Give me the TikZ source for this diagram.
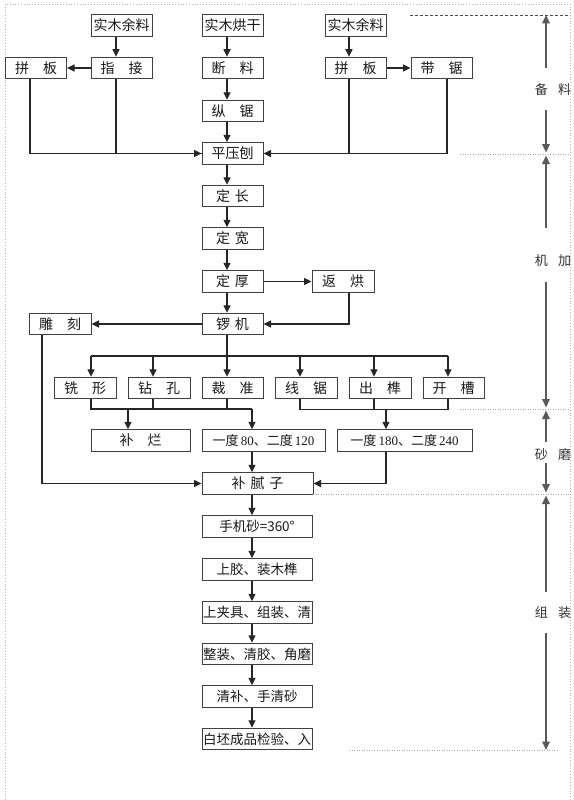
\documentclass[tikz,border=0pt]{standalone}
\usepackage{fontspec}
\setmainfont{Noto Sans CJK SC}
\newfontfamily\lat{Liberation Serif}
\usetikzlibrary{arrows.meta}
\newcommand\wsp{\hspace{1em}}
\newcommand\nsp{\hspace{0.35em}}
\begin{document}
\begin{tikzpicture}[x=1pt,y=-1pt,
  box/.style={draw=black!75, line width=1pt, minimum height=21.5pt, inner sep=0pt,
    font=\fontsize{14pt}{15pt}\selectfont, text=black!90},
  long/.style={font=\fontsize{13.5pt}{14pt}\selectfont},
  con/.style={draw=black!85, line width=1.1pt},
  arr/.style={con, -{Triangle[length=7.5pt,width=7pt]}},
  col/.style={draw=black!65, line width=2pt},
  colarr/.style={col, -{Triangle[length=8.5pt,width=7.5pt]}},
  sep/.style={draw=black!35, line width=0.5pt, dotted},
  topdash/.style={draw=black!70, line width=0.8pt, dash pattern=on 3pt off 2pt},
  border/.style={draw=black!30, line width=0.8pt, dotted},
  lab/.style={font=\fontsize{13pt}{14pt}\selectfont, text=black!80}
]
\useasboundingbox (0,0) rectangle (573,800);
\fill[white] (0,0) rectangle (573,800);

% page border
\draw[border] (5,800) -- (5,4) -- (570,4) -- (570,800);

% top rows
\node[box, minimum width=61pt] (s1) at (121.5,25.5) {实木余料};
\node[box, minimum width=61pt] (s2) at (232.5,25.5) {实木烘干};
\node[box, minimum width=61pt] (s3) at (355.5,25.5) {实木余料};
\node[box, minimum width=61pt] (pb1) at (36,68) {拼\wsp 板};
\node[box, minimum width=61pt] (zj) at (121.5,68) {指\wsp 接};
\node[box, minimum width=61pt] (dl) at (232.5,68) {断\wsp 料};
\node[box, minimum width=61pt] (pb2) at (355.5,68) {拼\wsp 板};
\node[box, minimum width=61pt] (dj) at (441.5,68) {带\wsp 锯};
\node[box, minimum width=61pt] (zjv) at (232.5,111) {纵\wsp 锯};
\node[box, minimum width=61pt] (ppb) at (232.5,153.5) {平压刨};
\node[box, minimum width=61pt] (dc) at (232.5,196) {定\nsp 长};
\node[box, minimum width=61pt] (dk) at (232.5,238.5) {定\nsp 宽};
\node[box, minimum width=61pt] (dh) at (232.5,281.5) {定\nsp 厚};
\node[box, minimum width=62pt] (hh) at (343,281.5) {返\wsp 烘};
\node[box, minimum width=61pt] (lj) at (232.5,324) {锣\nsp 机};
\node[box, minimum width=62pt] (dk2) at (60,324) {雕\wsp 刻};

% machining row
\node[box, minimum width=62pt] (xx) at (85,388) {铣\wsp 形};
\node[box, minimum width=62pt] (zk) at (159,388) {钻\wsp 孔};
\node[box, minimum width=61pt] (cz) at (232.5,388) {裁\wsp 准};
\node[box, minimum width=62pt] (xj) at (306,388) {线\wsp 锯};
\node[box, minimum width=62pt] (cs) at (380,388) {出\wsp 榫};
\node[box, minimum width=61pt] (kc) at (453.5,388) {开\wsp 槽};

% sanding row
\node[box, minimum width=99pt] (bl) at (140.5,440.5) {补\wsp 烂};
\node[box, minimum width=123pt, font=\fontsize{13pt}{14pt}\selectfont] (yd1) at (263.5,440.5) {一度\,{\lat 80}、二度\,{\lat 120}};
\node[box, minimum width=135pt, font=\fontsize{13pt}{14pt}\selectfont] (yd2) at (404.5,440.5) {一度\,{\lat 180}、二度\,{\lat 240}};
\node[box, minimum width=111pt] (bnz) at (257.5,483.5) {补\nsp 腻\nsp 子};

% assembly chain
\node[box, long, minimum width=110pt] (c1) at (257,526.5) {手机砂=360°};
\node[box, long, minimum width=110pt] (c2) at (257,569.5) {上胶、装木榫};
\node[box, long, minimum width=110pt] (c3) at (257,612.5) {上夹具、组装、清};
\node[box, long, minimum width=110pt] (c4) at (257,654) {整装、清胶、角磨};
\node[box, long, minimum width=110pt] (c5) at (257,696.5) {清补、手清砂};
\node[box, long, minimum width=110pt] (c6) at (257,739) {白坯成品检验、入};

% --- connectors: preparation ---
\draw[arr] ([xshift=-5.5pt]s1.south) -- ([xshift=-5.5pt]zj.north);
\draw[arr] (zj.west) -- (pb1.east);
\draw[arr] ([xshift=-6.5pt]s3.south) -- ([xshift=-6.5pt]pb2.north);
\draw[arr] (pb2.east) -- (dj.west);
\draw[arr] ([xshift=-5.5pt]s2.south) -- ([xshift=-5.5pt]dl.north);
\draw[arr] ([xshift=-5.5pt]dl.south) -- ([xshift=-5.5pt]zjv.north);
\draw[arr] ([xshift=-5.5pt]zjv.south) -- ([xshift=-5.5pt]ppb.north);
\draw[con] ([xshift=-5.5pt]zj.south) |- (ppb.west);
\draw[arr] ([xshift=-6pt]pb1.south) |- (ppb.west);
\draw[con] ([xshift=5.5pt]dj.south) |- (ppb.east);
\draw[arr] ([xshift=-6.5pt]pb2.south) |- (ppb.east);

% --- machining ---
\draw[arr] ([xshift=-5.5pt]ppb.south) -- ([xshift=-5.5pt]dc.north);
\draw[arr] ([xshift=-5.5pt]dc.south) -- ([xshift=-5.5pt]dk.north);
\draw[arr] ([xshift=-5.5pt]dk.south) -- ([xshift=-5.5pt]dh.north);
\draw[arr] ([xshift=-5.5pt]dh.south) -- ([xshift=-5.5pt]lj.north);
\draw[arr] (dh.east) -- (hh.west);
\draw[arr] ([xshift=6pt]hh.south) |- (lj.east);
\draw[arr] (lj.west) -- (dk2.east);
\draw[arr] ([xshift=-18pt]dk2.south) |- (bnz.west);

% branch bus
\coordinate (busL) at (91,356);
\coordinate (busR) at (448,356);
\draw[con] (busL) -- (busR);
\draw[arr] ([xshift=-5.5pt]lj.south) -- ([xshift=-5.5pt]cz.north);
\coordinate (dxx) at ([xshift=6pt]xx.north);
\coordinate (dzk) at ([xshift=-6pt]zk.north);
\coordinate (dxj) at ([xshift=-6pt]xj.north);
\coordinate (dcs) at ([xshift=-6pt]cs.north);
\coordinate (dkc) at ([xshift=-5.5pt]kc.north);
\draw[arr] (dxx |- busL) -- (dxx);
\draw[arr] (dzk |- busL) -- (dzk);
\draw[arr] (dxj |- busL) -- (dxj);
\draw[arr] (dcs |- busL) -- (dcs);
\draw[arr] (dkc |- busL) -- (dkc);

% lower buses
\coordinate (lbL) at (91,409);
\coordinate (lbR) at (252,409);
\draw[con] ([xshift=6pt]xx.south) |- (lbR);
\draw[con] ([xshift=-6pt]zk.south) -- ([xshift=-6pt]zk.south |- lbL);
\draw[con] ([xshift=-5.5pt]cz.south) -- ([xshift=-5.5pt]cz.south |- lbL);
\coordinate (a1) at ([xshift=-12.5pt]bl.north);
\draw[arr] (a1 |- lbL) -- (a1);
\draw[arr] (lbR) -- (lbR |- yd1.north);
\coordinate (rbR) at ([xshift=-5.5pt]kc.south);
\draw[con] ([xshift=-6pt]xj.south) |- ([yshift=-10pt]rbR) -- (rbR);
\draw[con] ([xshift=-6pt]cs.south) -- ([xshift=-6pt]cs.south |- lbL);
\coordinate (a2) at ([xshift=-18.5pt]yd2.north);
\draw[arr] (a2 |- lbL) -- (a2);

% sanding to putty
\draw[arr] (lbR |- yd1.south) -- (lbR |- bnz.north);
\draw[arr] ([xshift=-18.5pt]yd2.south) |- (bnz.east);

% assembly chain
\draw[arr] (lbR |- bnz.south) -- (lbR |- c1.north);
\draw[arr] (lbR |- c1.south) -- (lbR |- c2.north);
\draw[arr] (lbR |- c2.south) -- (lbR |- c3.north);
\draw[arr] (lbR |- c3.south) -- (lbR |- c4.north);
\draw[arr] (lbR |- c4.south) -- (lbR |- c5.north);
\draw[arr] (lbR |- c5.south) -- (lbR |- c6.north);

% --- stage column on the right ---
\draw[topdash] (410,15) -- (570,15);
\draw[sep] (460,154) -- (570,154);
\draw[sep] (460,409) -- (570,409);
\draw[sep] (313,494) -- (570,494);
\draw[sep] (349,750) -- (558,750);

\node[lab] (L1) at (553,90) {备\hspace{0.8em}料};
\node[lab] (L2) at (553,261) {机\hspace{0.8em}加};
\node[lab] (L3) at (553,455) {砂\hspace{0.8em}磨};
\node[lab] (L4) at (553,613) {组\hspace{0.8em}装};

\draw[colarr] (546,68) -- (546,15);
\draw[colarr] (546,110) -- (546,152.5);
\draw[colarr] (546,228) -- (546,155.5);
\draw[colarr] (546,282) -- (546,407.5);
\draw[colarr] (546,442) -- (546,410.5);
\draw[colarr] (546,463) -- (546,492.5);
\draw[colarr] (546,592) -- (546,495.5);
\draw[colarr] (546,633) -- (546,750);
\end{tikzpicture}
\end{document}
